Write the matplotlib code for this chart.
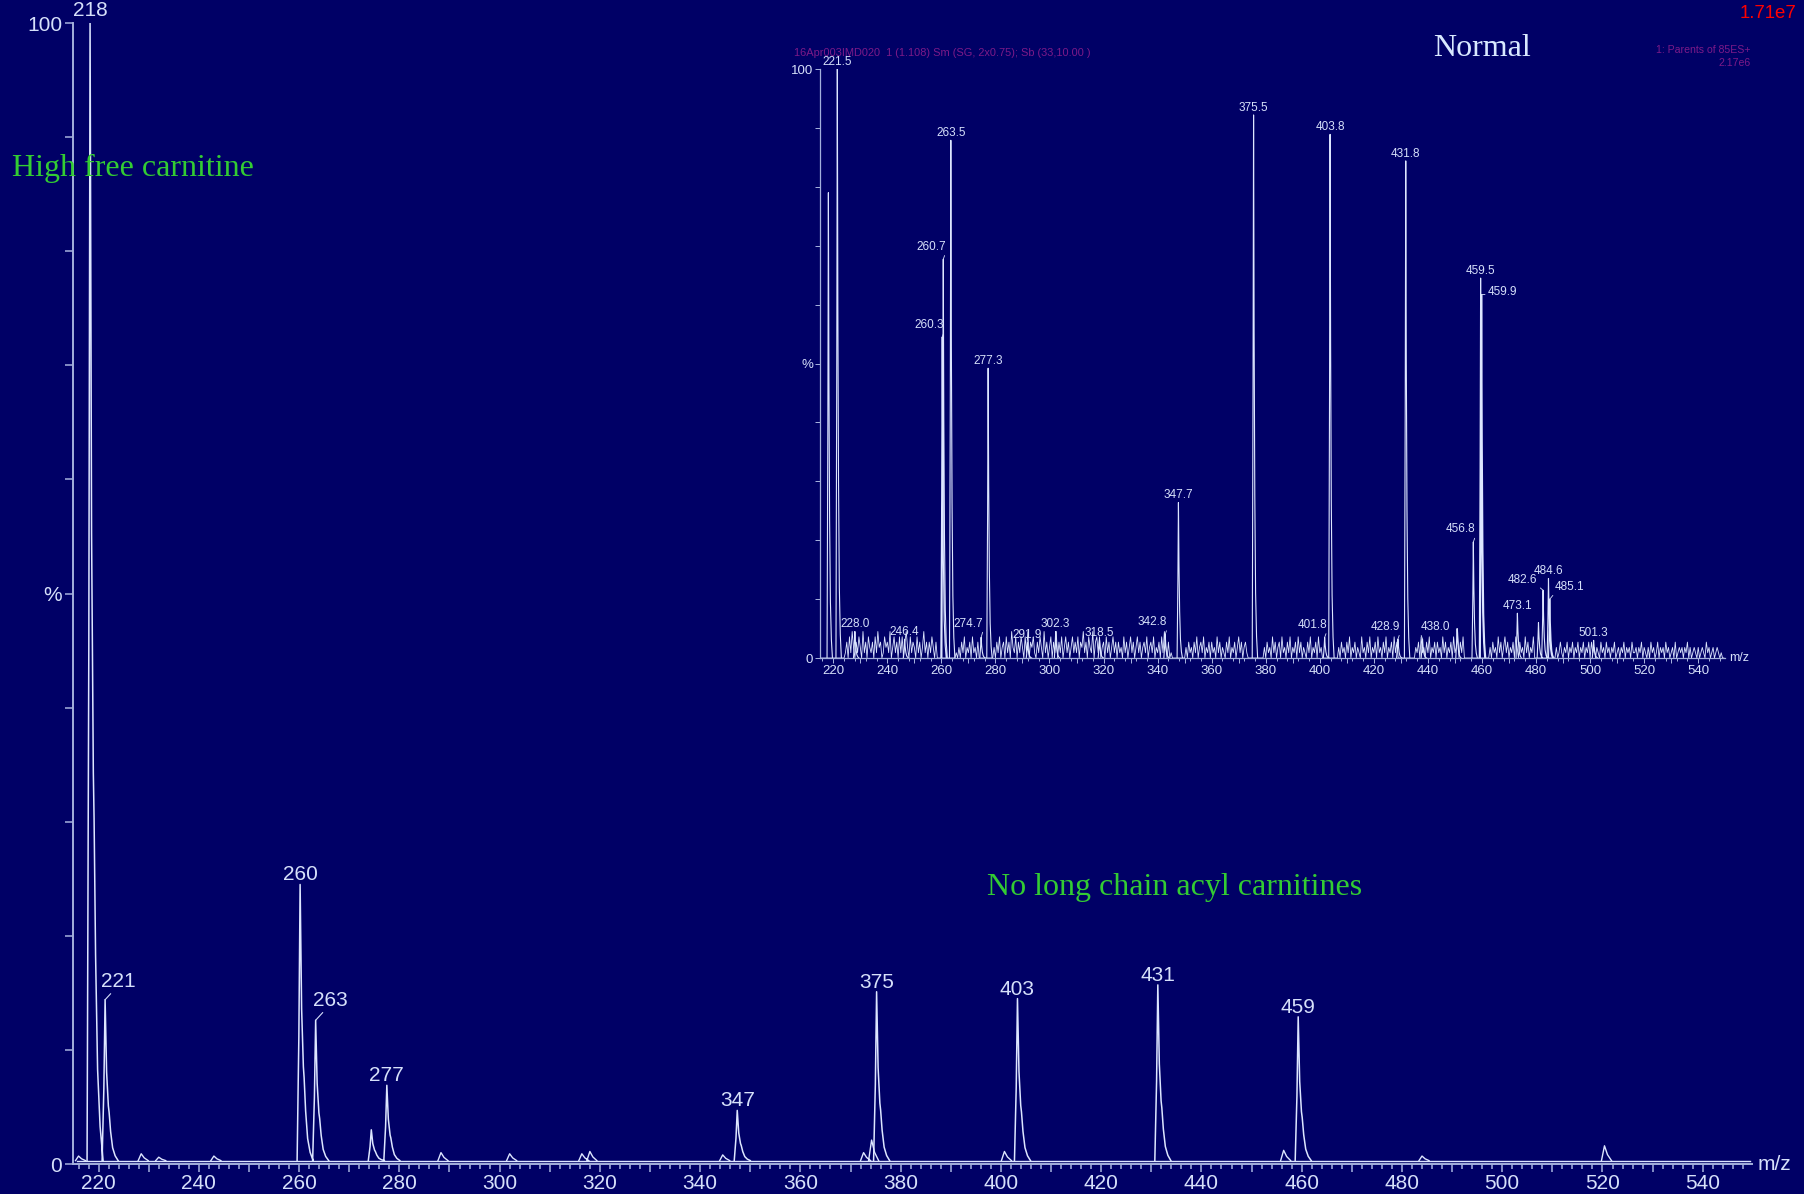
import matplotlib.pyplot as plt
import numpy as np
from matplotlib.ticker import MultipleLocator, FuncFormatter

BG = "#000066"
LINE = "#dde6ff"
AXIS = "#a4b0dc"
TEXT = "#d6e0fa"
GREEN = "#33cc33"
PURPLE = "#7d1a88"
NARROW = ["Liberation Sans Narrow", "Liberation Sans", "DejaVu Sans"]

plt.rcParams["font.family"] = NARROW

# ---- main spectrum (patient) : peak centres (m/z) and relative intensity (%)
main_mz = [218.3, 221.3, 260.2, 263.3, 274.4, 277.5, 347.4, 375.2, 403.3, 431.3, 459.3]
main_int = [100, 14.1, 24.2, 12.3, 2.7, 6.6, 4.4, 14.8, 14.2, 15.4, 12.6]
main_labels = ["218", "221", "260", "263", "", "277", "347", "375", "403", "431", "459"]

# small bumps on the main baseline
minor_mz = [216.0, 228.5, 232.0, 243.0, 288.3, 302.0, 316.4, 318.0, 344.5, 372.6,
            374.2, 400.7, 456.4, 484.0, 520.4]
minor_int = [0.4, 0.6, 0.3, 0.4, 0.7, 0.6, 0.6, 0.8, 0.5, 0.7, 1.8, 0.8, 0.9, 0.4, 1.3]

# ---- inset spectrum (normal)
inset_mz = [218.2, 221.5, 228.0, 246.4, 260.3, 260.7, 263.5, 274.7, 277.3, 291.9,
            302.3, 318.5, 342.8, 347.7, 375.5, 401.8, 403.8, 428.9, 431.8, 438.0,
            450.8, 456.8, 459.5, 459.9, 473.1, 480.9, 482.6, 484.6, 485.1, 501.3]
inset_int = [79, 100, 4.5, 3.2, 54.5, 67.7, 87.9, 3.5, 49.2, 2.6,
             4.5, 3.0, 4.0, 26.4, 92.2, 3.5, 88.9, 3.2, 84.4, 3.2,
             5.0, 19.7, 64.5, 61.7, 7.6, 6.0, 11.5, 13.5, 10.0, 3.0]
inset_labels = ["", "221.5", "228.0", "246.4", "260.3", "260.7", "263.5", "274.7", "277.3", "291.9",
                "302.3", "318.5", "342.8", "347.7", "375.5", "401.8", "403.8", "428.9", "431.8", "438.0",
                "", "456.8", "459.5", "459.9", "473.1", "", "482.6", "484.6", "485.1", "501.3"]

# baseline noise of the inset, read as levels 0-5 (x 0.9 %) every 0.5 m/z from 215
noise_start = 215.0
noise_step = 0.5
noise_unit = 0.9
noise_blocks = [
    "0000000000", "0000000001", "3041520314", "2051304213", "0415230142",
    "3150241304", "1403520413", "2041302513", "0314203000", "0000000000",
    "0102031402", "1304120300", "0000000002", "0314023041", "3052140314",
    "2041503241", "0314205130", "2403150314", "0241302413", "1403251304",
    "2150341402", "3041302413", "0312041302", "4130241302", "3140231402",
    "1304152030", "1000000000", "0203120314", "0231402130", "3120413021",
    "0314021302", "4130231000", "0000000002", "0312041302", "3041203140",
    "2130413021", "0314021304", "1200000000", "0000203120", "3140213021",
    "0412031402", "1304120314", "0213041300", "0000000000", "0213041203",
    "1402130312", "0413021304", "1250314000", "0000000000", "0000002031",
    "2041302413", "0213042031", "2041302140", "0000000000", "0000020131",
    "0213021302", "1302130213", "0312021031", "2031202130", "1202130212",
    "0311202130", "2102031201", "3021203120", "1203012120", "2130201210",
    "2012103120", "1201210100",
]
noise_int = [int(c) * noise_unit for c in "".join(noise_blocks)]
noise_mz = [noise_start + noise_step * i for i in range(len(noise_int))]

# peak outline (offset in m/z, fraction of height) -- drawing style only
main_dx = [-0.6, -0.25, 0.0, 0.3, 0.65, 0.8, 1.1, 1.5, 2.0, 2.6]
main_f = [0, 0.45, 1.0, 0.55, 0.34, 0.3, 0.18, 0.08, 0.03, 0.0]
bump_dx = [-0.6, 0.0, 0.6, 1.4]
bump_f = [0, 1.0, 0.4, 0.0]
inset_dx = [-0.5, -0.2, 0.0, 0.2, 0.45, 0.75, 1.1, 1.5]
inset_f = [0, 0.5, 1.0, 0.6, 0.3, 0.12, 0.04, 0.0]


def peak_trace(mz, heights, dx, frac, base=0.0):
    xs, ys = [], []
    for m, h in zip(mz, heights):
        xs += [m + d for d in dx] + [np.nan]
        ys += [base + h * f for f in frac] + [np.nan]
    return xs, ys


def style_axes(ax, lw, major_len, minor_len, size, xminor):
    ax.set_facecolor("none")
    for side in ["top", "right"]:
        ax.spines[side].set_visible(False)
    for side in ["left", "bottom"]:
        ax.spines[side].set_color(AXIS)
        ax.spines[side].set_linewidth(lw)
    ax.set_ylim(0, 100)
    ax.yaxis.set_major_locator(MultipleLocator(10))
    ax.yaxis.set_major_formatter(FuncFormatter(
        lambda v, p: {0: "0", 50: "%", 100: "100"}.get(int(round(v)), "")))
    ax.xaxis.set_major_locator(MultipleLocator(10))
    ax.xaxis.set_minor_locator(MultipleLocator(xminor))
    ax.xaxis.set_major_formatter(FuncFormatter(
        lambda v, p: f"{int(round(v))}" if int(round(v)) % 20 == 0 else ""))
    ax.tick_params(which="major", direction="out", color=AXIS, width=lw * 0.8,
                   length=major_len, labelcolor=TEXT, labelsize=size, pad=1.5)
    ax.tick_params(which="minor", direction="out", color=AXIS, width=lw * 0.8,
                   length=minor_len)


fig = plt.figure(figsize=(18.04, 11.94), dpi=100, facecolor=BG)

# ---------------- main chart
ax = fig.add_axes([0.0402, 0.0251, 0.9309, 0.9556])
style_axes(ax, 1.4, 6, 3.5, 15, 2)
ax.set_xlim(214.8, 549.8)

ax.plot([215.6, 549.4], [0.3, 0.3], color=LINE, lw=1.0)
bx, by = peak_trace(minor_mz, minor_int, bump_dx, bump_f, base=0.3)
ax.plot(bx, by, color=LINE, lw=1.0)
px, py = peak_trace(main_mz, main_int, main_dx, main_f, base=0.3)
ax.plot(px, py, color=LINE, lw=1.1)

main_offsets = {"221": (9.6, 13.2), "263": (10.7, 14.4)}
for m, h, lab in zip(main_mz, main_int, main_labels):
    if not lab:
        continue
    if lab in main_offsets:
        ax.annotate(lab, xy=(m, h + 0.3), xytext=main_offsets[lab], textcoords="offset points",
                    ha="center", va="center", color=TEXT, fontsize=15, annotation_clip=False,
                    arrowprops=dict(arrowstyle="-", color=TEXT, lw=0.8, shrinkA=0, shrinkB=0,
                                    relpos=(0.35, 0.0)))
    else:
        ax.annotate(lab, xy=(m, h + 0.3), xytext=(0, 0), textcoords="offset points",
                    ha="center", va="bottom", color=TEXT, fontsize=15, annotation_clip=False)

ax.annotate("m/z", xy=(1, 0), xycoords="axes fraction", xytext=(4, 0), textcoords="offset points",
            ha="left", va="center", color=TEXT, fontsize=15)

# ---------------- inset chart
ins = fig.add_axes([0.4547, 0.4489, 0.5015, 0.4933])
style_axes(ins, 0.9, 3.5, 2, 9.5, 4)
ins.set_xlim(215.2, 549.9)

ins.plot(noise_mz, noise_int, color=LINE, lw=0.6)
ix, iy = peak_trace(inset_mz, inset_int, inset_dx, inset_f)
ins.plot(ix, iy, color=LINE, lw=0.8)

inset_offsets = {"260.3": (-9, 9), "260.7": (-9, 9), "274.7": (-9, 10), "342.8": (-9, 9),
                 "401.8": (-9, 9), "428.9": (-9, 9), "456.8": (-9, 9), "438.0": (9, 9),
                 "459.9": (15, 2), "482.6": (-14.6, 7.7), "485.1": (14.5, 9)}
for m, h, lab in zip(inset_mz, inset_int, inset_labels):
    if not lab:
        continue
    if lab in inset_offsets:
        dx, dy = inset_offsets[lab]
        rel = (1.0, 0.0) if dx < 0 else (0.0, 0.0)
        if lab == "459.9":
            rel = (0.0, 0.3)
        ins.annotate(lab, xy=(m, h), xytext=(dx, dy), textcoords="offset points",
                     ha="center", va="center", color=TEXT, fontsize=8.5, annotation_clip=False,
                     arrowprops=dict(arrowstyle="-", color=TEXT, lw=0.6, shrinkA=0, shrinkB=0,
                                     relpos=rel))
    else:
        ins.annotate(lab, xy=(m, h), xytext=(0, 1), textcoords="offset points",
                     ha="center", va="bottom", color=TEXT, fontsize=8.5, annotation_clip=False)

ins.annotate("m/z", xy=(1, 0), xycoords="axes fraction", xytext=(3, 0), textcoords="offset points",
             ha="left", va="center", color=TEXT, fontsize=9)

# ---------------- annotations
fig.text(794.5 / 1804, 1 - 53 / 1194, "16Apr003IMD020  1 (1.108) Sm (SG, 2x0.75); Sb (33,10.00 )",
         color=PURPLE, fontsize=7.9, ha="left", va="center")
fig.text(1750 / 1804, 1 - 50 / 1194, "1: Parents of 85ES+", color=PURPLE, fontsize=7.6,
         ha="right", va="center")
fig.text(1751 / 1804, 1 - 63 / 1194, "2.17e6", color=PURPLE, fontsize=7.6,
         ha="right", va="center")
fig.text(1796 / 1804, 1 - 13 / 1194, "1.71e7", color="#ff0000", fontsize=13.4,
         family="Liberation Sans", ha="right", va="center")
fig.text(1433 / 1804, 1 - 48 / 1194, "Normal", color="#d8e8ff", fontsize=23,
         family="Liberation Serif", ha="left", va="center")
fig.text(11.5 / 1804, 1 - 168 / 1194, "High free carnitine", color=GREEN, fontsize=23,
         family="Liberation Serif", ha="left", va="center")
fig.text(987 / 1804, 1 - 888 / 1194, "No long chain acyl carnitines", color=GREEN, fontsize=23,
         family="Liberation Serif", ha="left", va="center")

fig.savefig("out.png", dpi=100, facecolor=BG)
plt.close(fig)
